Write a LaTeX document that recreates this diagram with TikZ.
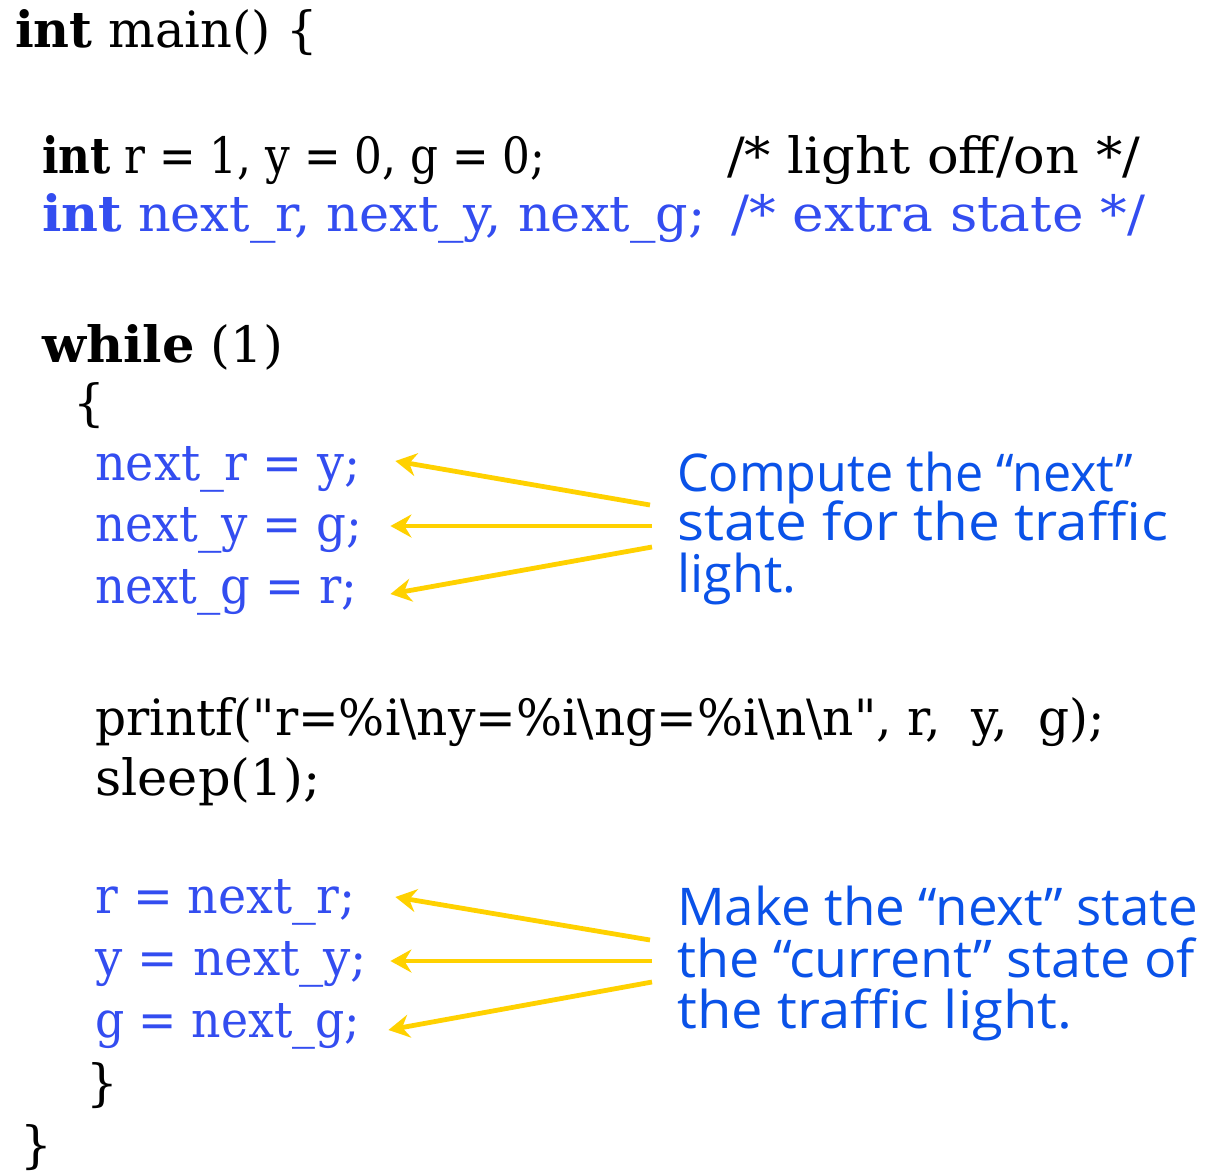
\documentclass[tikz,border=0pt]{standalone}
\usepackage{fontspec}
\usepackage{graphicx}
\setmainfont{DejaVu Serif}
\newfontfamily\rawserif{DejaVu Serif}[Ligatures=ResetAll]
\newfontfamily\notefont{Open Sans}
\usetikzlibrary{arrows.meta}
\definecolor{codeblue}{RGB}{51,77,240}
\definecolor{noteblue}{RGB}{10,82,232}
\definecolor{arrowyellow}{RGB}{255,209,0}
% stretch a line of text horizontally to a given width, keeping its height
\newcommand\fitw[2]{\resizebox{#1pt}{\height}{#2}}
% straight double quote, without the TeX quote mapping
\newcommand\dq{{\rawserif\symbol{34}}}
\tikzset{
  codeline/.style={anchor=base west, inner sep=0pt, font=\fontsize{50}{56}\selectfont},
  noteline/.style={anchor=base west, inner sep=0pt, text=noteblue, font=\notefont\fontsize{52}{56}\selectfont},
  pointer/.style={draw=arrowyellow, line width=4.8pt, -{Stealth[length=21pt,width=23pt,inset=7pt]}}
}
\begin{document}
\begin{tikzpicture}[x=1pt,y=-1pt]
\useasboundingbox (0,0) rectangle (1205,1175);
% declarations
\node[codeline] (main) at (15,47) {\fitw{303}{\textbf{int} main() \{}};
\node[codeline] (decl) at (42,173) {\fitw{503}{\textbf{int} r = 1, y = 0, g = 0;}};
\node[codeline] (declc) at (727,173) {\fitw{413}{/* light off/on */}};
\node[codeline,text=codeblue] (next) at (42,231) {\fitw{663}{\textbf{int} next\_r, next\_y, next\_g;}};
\node[codeline,text=codeblue] (nextc) at (731,231) {\fitw{414}{/* extra state */}};
% loop
\node[codeline] (while) at (42,362) {\fitw{241}{\textbf{while} (1)}};
\node[codeline] (open) at (73,420) {\{};
\node[codeline,text=codeblue] (nr) at (95,480) {\fitw{265}{next\_r = y;}};
\node[codeline,text=codeblue] (ny) at (95,541) {\fitw{267}{next\_y = g;}};
\node[codeline,text=codeblue] (ng) at (95,603) {\fitw{262}{next\_g = r;}};
\node[codeline] (print) at (95,735) {\fitw{1010}{printf(\dq r=\%i\textbackslash ny=\%i\textbackslash ng=\%i\textbackslash n\textbackslash n\dq, r,\ \ y,\ \ g);}};
\node[codeline] (sleep) at (95,795) {\fitw{225}{sleep(1);}};
\node[codeline,text=codeblue] (cr) at (95,913) {\fitw{260}{r = next\_r;}};
\node[codeline,text=codeblue] (cy) at (95,975) {\fitw{272}{y = next\_y;}};
\node[codeline,text=codeblue] (cg) at (95,1037) {\fitw{265}{g = next\_g;}};
\node[codeline] (close) at (86,1100) {\}};
\node[codeline] (end) at (20,1162) {\}};
% notes
\node[noteline] (n1a) at (677,491) {\fitw{456}{Compute the “next”}};
\node[noteline] (n1b) at (677,540) {\fitw{491}{state for the traffic}};
\node[noteline] (n1c) at (677,592) {\fitw{119}{light.}};
\node[noteline] (n2a) at (677,925) {\fitw{521}{Make the “next” state}};
\node[noteline] (n2b) at (677,977) {\fitw{518}{the “current” state of}};
\node[noteline] (n2c) at (677,1028) {\fitw{395}{the traffic light.}};
% arrows from the notes to the statements
\coordinate (a1) at (650,505);
\coordinate (a2) at (652,526);
\coordinate (a3) at (652,547);
\coordinate (b1) at (650,940);
\coordinate (b2) at (652,961);
\coordinate (b3) at (652,982);
\draw[pointer] (a1) -- ([xshift=35pt]nr.base east |- 0,461);
\draw[pointer] (a2) -- ([xshift=28pt]ny.base east |- 0,526);
\draw[pointer] (a3) -- ([xshift=33pt]ng.base east |- 0,594);
\draw[pointer] (b1) -- ([xshift=40pt]cr.base east |- 0,897);
\draw[pointer] (b2) -- ([xshift=23pt]cy.base east |- 0,961);
\draw[pointer] (b3) -- ([xshift=28pt]cg.base east |- 0,1030);
\end{tikzpicture}
\end{document}
